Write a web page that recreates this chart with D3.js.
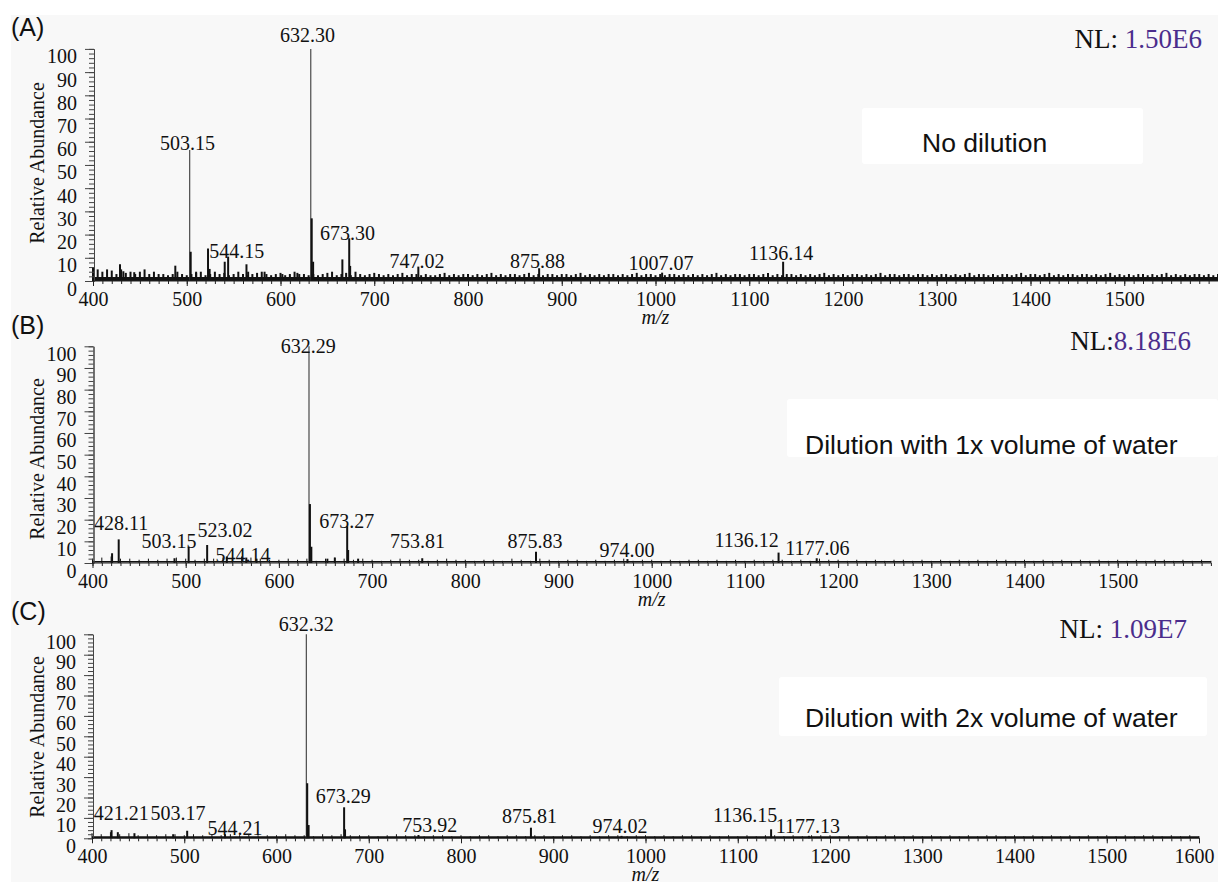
<!DOCTYPE html>
<html><head><meta charset="utf-8">
<script src="https://cdn.jsdelivr.net/npm/d3@7"></script>
<style>body{margin:0;background:#fff}svg{display:block}
.ser{font-family:'Liberation Serif','Times New Roman',serif}
.san{font-family:'Liberation Sans',Arial,sans-serif}</style>
</head><body><svg id="c" width="1218" height="882"></svg>
<script>
// ---------------- DATA ----------------
const panelTags = ["(A)", "(B)", "(C)"];
const conditions = ["No dilution", "Dilution with 1x volume of water", "Dilution with 2x volume of water"];
const nlPrefix = ["NL: ", "NL:", "NL: "];
const nlValues = ["1.50E6", "8.18E6", "1.09E7"];
const yTicks = [0, 10, 20, 30, 40, 50, 60, 70, 80, 90, 100];
const xTicksAB = [400, 500, 600, 700, 800, 900, 1000, 1100, 1200, 1300, 1400, 1500];
const xTicksC = [400, 500, 600, 700, 800, 900, 1000, 1100, 1200, 1300, 1400, 1500, 1600];

// Peaks: m/z and relative abundance
const peaksA_mz = [428.8, 432.4, 444, 487.8, 503.15, 504.2, 510, 522.7, 524.4, 540.5, 544.15, 563.7, 565.5, 583, 602, 618, 632.30, 633.3, 634.8, 666, 673.30, 674.3, 747.02, 875.88, 1007.07, 1136.14];
const peaksA_ab = [7.2, 4.2, 3.8, 6.6, 56.4, 12.6, 4, 14, 5.2, 8.3, 10.5, 7.2, 4, 4, 3, 3.5, 100, 27, 8.3, 9.3, 18.4, 6.5, 6.2, 5.5, 3.6, 8.3];
const peaksB_mz = [421, 428.11, 488, 503.15, 523.02, 544.14, 565, 576, 632.29, 633.3, 634.8, 652, 660, 673.27, 674.3, 685, 753.81, 875.83, 974.00, 1136.12, 1177.06];
const peaksB_ab = [4.5, 10.9, 2.2, 7.5, 8.3, 3, 2.5, 2, 100, 27.2, 7.5, 2, 2.5, 17, 6, 2, 2.2, 5.2, 1.8, 4.8, 2.2];
const peaksC_mz = [421.21, 428, 446, 488, 503.17, 544.21, 632.32, 633.3, 634.8, 673.29, 674.3, 753.92, 875.81, 974.02, 1136.15, 1177.13];
const peaksC_ab = [4, 3, 2.5, 2, 3.7, 2, 100, 27, 6.5, 15.2, 4.4, 1.6, 5.2, 1.2, 4.4, 1.2];

// Peak annotations: text, anchor m/z, abundance level of text baseline
const labelsA_text = ["632.30", "503.15", "544.15", "673.30", "747.02", "875.88", "1007.07", "1136.14"];
const labelsA_mz = [628.8, 500.8, 553.3, 671.5, 745.6, 874.1, 1005.9, 1133.9];
const labelsA_ab = [103.1, 56.4, 9.8, 17.7, 5.6, 5.5, 4.7, 9.0];
const labelsB_text = ["632.29", "428.11", "503.15", "523.02", "544.14", "673.27", "753.81", "875.83", "974.00", "1136.12", "1177.06"];
const labelsB_mz = [631.5, 430.6, 482.1, 542.2, 561.5, 672.7, 748.7, 874.8, 973.5, 1101.9, 1177.9];
const labelsB_ab = [96.8, 15.2, 6.9, 11.9, 0.6, 16, 6.8, 6.9, 2.9, 7.5, 3.7];
const labelsC_text = ["632.32", "421.21", "503.17", "544.21", "673.29", "753.92", "875.81", "974.02", "1136.15", "1177.13"];
const labelsC_mz = [632.3, 431.8, 493.2, 555.0, 672.4, 766.1, 874.3, 972.4, 1107.9, 1175.9];
const labelsC_ab = [101.6, 9.0, 9.0, 1.6, 17.2, 3.2, 7.4, 2.7, 8.1, 2.5];

// Baseline noise levels (A: every 5 m/z from 400; B, C: every 10 m/z from 400)
const noiseA = [
 6,5,4,5,4.5,3,5,3.5,4,3,4,5,3,4,3,
 3,2.5,3,4,3,2.5,3,3.5,4,2.5,3,4,3,3.5,2.5,3,4,3,2.5,3,3.5,4,3,2.5,3,3.5,2.5,3,4,3,3,2.5,
 3,2.5,3,3.5,4,2.5,3,3.5,2.5,4,3,2.5,3,3.5,
 3,2.5,3,2.5,3,3.5,2.5,3,3,2.5, 3,2.5,2.5,3,3.5,2.5,3,2.5,3,3,
 2.5,3,2.5,3,3.5,2.5,3,2.5,3,3, 2.5,3,3.5,2.5,3,2.5,3,3,2.5,3,
 3,2.5,3,3.5,2.5,3,2.5,3,2.5,3, 3,2.5,3,2.5,3,3.5,2.5,3,3,2.5,
 3,2.5,3,3,2.5,3,2.5,3,2.5,3, 2.5,3,3.5,2.5,3,2.5,3,3,2.5,3,
 3,2.5,3,3.5,2.5,3,2.5,3,3,2.5, 3,2.5,3,2.5,3,3.5,2.5,3,2.5,3,
 2.5,3,3,2.5,3,2.5,3,3.5,2.5,3, 3,2.5,3,3,2.5,3,3,2.5,3,2.5,
 3,3,2.5,3,2.5,3,3.5,2.5,3,3, 2.5,3,2.5,3,3,2.5,3,3.5,2.5,3,
 3,2.5,3,3.5,2.5,3,2.5,3,3,2.5, 3,3,2.5,3,2.5,3,3.5,2.5,3,2.5,
 3,2.5,3,3,2.5,3,2.5,3,3.5,2.5, 3,2.5,3,2.5,3,3,2.5,3,2.5,3
];
const noiseB = [
 2,2.5,3,2,2,1.5,2,1.5,2,2.5,
 2,1.5,2,2,2.5,2,3,2.5,2,1.5,
 1.5,2,1.5,2,1,2,2.5,2,1.5,2,
 1.5,1,1.5,2,1.5,1.5,1,1.5,2,1.5,
 1.5,1,1.5,1.5,1,2,1.5,1,2,1.5,
 1,1.5,1.5,1,1.5,1,1.5,2,1,1.5,
 1.5,1,1.5,1,1.5,1.5,1,1.5,1,1.5,
 1,1.5,1,1.5,1.5,1,1.5,1,2,1.5,
 1.5,1,1.5,1,1.5,1,1.5,1.5,1,1.5,
 1,1.5,1,1.5,1,1.5,1,1.5,1.5,1,
 1.5,1,1.5,1,1.5,1,1.5,1,1.5,1,
 1.5,1,1.5,1,1.5,1.5,1,1.5,1,1.5,
 1
];
const noiseC = [
 2.5,2,3,2,2.5,1.5,2,1.5,2,2,
 1.5,2,1.5,2,1.5,2,1.5,2,1.5,1.5,
 1.5,2,1.5,1.5,1,2,1.5,2,1.5,1.5,
 1.5,1,1.5,2,1.5,1.5,1,1.5,1.5,1,
 1.5,1,1.5,1.5,1,1.5,1.5,1,1.5,1.5,
 1,1.5,1.5,1,1.5,1,1.5,1.5,1,1.5,
 1.5,1,1.5,1,1.5,1.5,1,1.5,1,1.5,
 1,1.5,1,1.5,1.5,1,1.5,1,1.5,1.5,
 1.5,1,1.5,1,1.5,1,1.5,1.5,1,1.5,
 1,1.5,1,1.5,1,1.5,1,1.5,1.5,1,
 1.5,1,1.5,1,1.5,1,1.5,1,1.5,1,
 1.5,1,1.5,1,1.5,1.5,1,1.5,1,1.5,
 1
];

// ---------------- DRAWING ----------------
const svg = d3.select("#c");
svg.append("rect").attr("x", 11).attr("y", 15).attr("width", 1207).attr("height", 867).attr("fill", "#f8f8f8");

const panels = [
  {peaksMz: peaksA_mz, peaksAb: peaksA_ab, lt: labelsA_text, lm: labelsA_mz, la: labelsA_ab, noise: noiseA, noiseStep: 5, xTicks: xTicksAB,
   L: {x0: 93, x1: 1218, yb: 281, yt: 48.9, tagY: 36, ylabY: 163, nl: [1202, 48], box: [862, 108, 281, 56], bt: [922, 151.5], heavy: true}},
  {peaksMz: peaksB_mz, peaksAb: peaksB_ab, lt: labelsB_text, lm: labelsB_mz, la: labelsB_ab, noise: noiseB, noiseStep: 10, xTicks: xTicksAB,
   L: {x0: 92.5, x1: 1210.9, yb: 563, yt: 346.3, tagY: 334, ylabY: 459, nl: [1191, 350], box: [787, 399, 431, 58], bt: [805, 454], heavy: false}},
  {peaksMz: peaksC_mz, peaksAb: peaksC_ab, lt: labelsC_text, lm: labelsC_mz, la: labelsC_ab, noise: noiseC, noiseStep: 10, xTicks: xTicksC,
   L: {x0: 92, x1: 1199, yb: 838.3, yt: 634.3, tagY: 620, ylabY: 737, nl: [1187, 638], box: [779, 677, 428, 59], bt: [805, 727], heavy: false}}
];

panels.forEach((p, i) => {
  const L = p.L;
  const x = d3.scaleLinear().domain([400, 1600]).range([L.x0, L.x1]);
  const y = d3.scaleLinear().domain([0, 100]).range([L.yb, L.yt]);
  const g = svg.append("g");

  // condition box
  g.append("rect").attr("x", L.box[0]).attr("y", L.box[1]).attr("width", L.box[2]).attr("height", L.box[3])
    .attr("rx", 3).attr("fill", "#ffffff");
  g.append("text").attr("class", "san").attr("x", L.bt[0]).attr("y", L.bt[1]).style("font-size", "26.5px")
    .attr("fill", "#111").text(conditions[i]);

  // panel tag
  g.append("text").attr("class", "san").attr("x", 11).attr("y", L.tagY).style("font-size", "25px")
    .attr("fill", "#111").text(panelTags[i]);

  // NL
  const nl = g.append("text").attr("class", "ser").attr("x", L.nl[0]).attr("y", L.nl[1]).attr("text-anchor", "end")
    .style("font-size", "27px");
  nl.append("tspan").attr("fill", "#111").text(nlPrefix[i]);
  nl.append("tspan").attr("fill", "#4b2d8c").text(nlValues[i]);

  // y axis label
  g.append("text").attr("class", "ser").attr("transform", `translate(44,${L.ylabY}) rotate(-90)`).attr("text-anchor", "middle")
    .style("font-size", "20px").attr("fill", "#111").text("Relative Abundance");

  // noise
  const noiseMz = p.noise.map((v, k) => 400 + k * p.noiseStep);
  g.append("g").selectAll("line").data(p.noise).join("line")
    .attr("x1", (d, k) => x(noiseMz[k])).attr("x2", (d, k) => x(noiseMz[k]))
    .attr("y1", y(0)).attr("y2", d => y(d))
    .attr("stroke", "#111").attr("stroke-width", L.heavy ? 2 : 1);
  // baseline band
  g.append("line").attr("x1", x(400)).attr("x2", L.x1)
    .attr("y1", y(0) - (L.heavy ? 2 : 1.2)).attr("y2", y(0) - (L.heavy ? 2 : 1.2))
    .attr("stroke", "#111").attr("stroke-width", L.heavy ? 4 : 1.6);

  // peaks
  g.append("g").selectAll("line").data(p.peaksAb).join("line")
    .attr("x1", (d, k) => x(p.peaksMz[k])).attr("x2", (d, k) => x(p.peaksMz[k]))
    .attr("y1", y(0)).attr("y2", d => y(d))
    .attr("stroke", d => d > 30 ? "#3a3a3a" : "#111").attr("stroke-width", d => d > 30 ? 1.1 : 2);

  // peak labels
  g.append("g").selectAll("text").data(p.lt).join("text").attr("class", "ser")
    .attr("x", (d, k) => x(p.lm[k])).attr("y", (d, k) => y(p.la[k]))
    .attr("text-anchor", "middle").style("font-size", "20px").attr("fill", "#111")
    .text(d => d);

  // y axis
  const yMinor = d3.range(0, 101, 2);
  const ya = g.append("g").attr("transform", `translate(${x(400) + 1},0)`);
  ya.call(d3.axisLeft(y).tickValues(yMinor).tickSize(5).tickSizeOuter(0).tickFormat(""));
  ya.selectAll("line,path").attr("stroke", "#444");
  const yb = g.append("g").attr("transform", `translate(${x(400) + 1},0)`);
  yb.call(d3.axisLeft(y).tickValues(yTicks).tickSize(9).tickSizeOuter(0).tickPadding(8).tickFormat(d3.format("d")));
  yb.attr("font-family", null).attr("font-size", null);
  yb.select(".domain").attr("stroke", "#444");
  yb.selectAll("line").attr("stroke", "#444");
  yb.selectAll("text").attr("class", "ser").attr("dy", 0).attr("y", 14).style("font-size", "20px").attr("fill", "#111");

  // x axis
  const xa = g.append("g").attr("transform", `translate(0,${y(0)})`);
  xa.call(d3.axisBottom(x).tickValues(d3.range(400, 1601, 10)).tickSize(3).tickSizeOuter(0).tickFormat(""));
  xa.selectAll("line,path").attr("stroke", "#222");
  xa.select(".domain").attr("d", `M${x(400)},0H${L.x1}`);
  const xb = g.append("g").attr("transform", `translate(0,${y(0)})`);
  xb.call(d3.axisBottom(x).tickValues(p.xTicks).tickSize(5).tickSizeOuter(0).tickFormat(d3.format("d")));
  xb.attr("font-family", null).attr("font-size", null);
  xb.select(".domain").remove();
  xb.selectAll("line").attr("stroke", "#222");
  xb.selectAll("text").attr("class", "ser").attr("dy", 0).attr("y", 25).style("font-size", "20px").attr("fill", "#111")
    .attr("text-anchor", d => d === 1600 ? "end" : "middle").attr("x", d => d === 1600 ? 15 : 0);

  // x axis title
  g.append("text").attr("class", "ser").attr("x", x(1000)).attr("y", y(0) + 43).attr("text-anchor", "middle")
    .style("font-style", "italic").style("font-size", "20px").attr("fill", "#111").text("m/z");
});
</script></body></html>
